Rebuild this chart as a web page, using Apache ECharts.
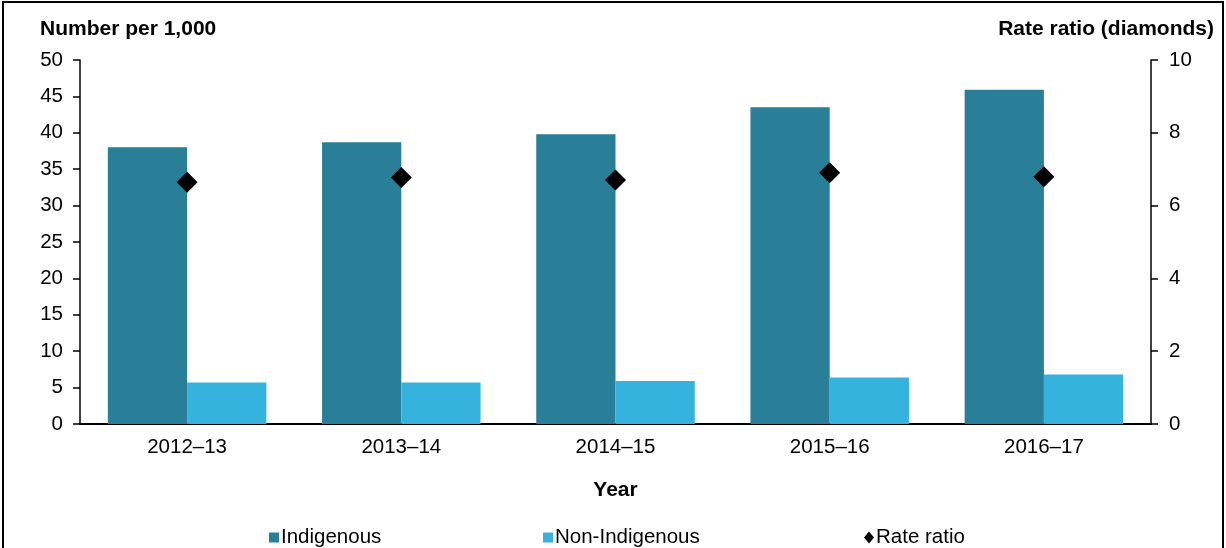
<!DOCTYPE html>
<html>
<head>
<meta charset="utf-8">
<script src="https://cdn.jsdelivr.net/npm/echarts@6/dist/echarts.min.js"></script>
<style>
html,body{margin:0;padding:0;background:#fff;}
#chart{width:1226px;height:548px;}
</style>
</head>
<body>
<div id="chart"></div>
<script>
var categories = ['2012–13', '2013–14', '2014–15', '2015–16', '2016–17'];
var indigenous = [38.0, 38.7, 39.8, 43.5, 45.9];
var nonIndigenous = [5.7, 5.7, 5.9, 6.4, 6.8];
var rateRatio = [6.64, 6.77, 6.70, 6.90, 6.79];
var leftTicks = {min: 0, max: 50, interval: 5};
var rightTicks = {min: 0, max: 10, interval: 2};

var FONT = '"Liberation Sans", Arial, sans-serif';
var FS = 20.5;
var FSB = 21;
var chart = echarts.init(document.getElementById('chart'), null, {renderer: 'canvas'});
var option = {
  animation: false,
  backgroundColor: '#fff',
  grid: {left: 80, right: 75, top: 60, bottom: 124, containLabel: false},
  legend: [
    {data: [{name: 'Indigenous', icon: 'rect'}], left: 264, top: 522, itemWidth: 10, itemHeight: 10,
     textStyle: {fontFamily: FONT, fontSize: FS, color: '#000', padding: [0, 0, 0, -3]}},
    {data: [{name: 'Non-Indigenous', icon: 'rect'}], left: 538, top: 522, itemWidth: 10, itemHeight: 10,
     textStyle: {fontFamily: FONT, fontSize: FS, color: '#000', padding: [0, 0, 0, -3]}},
    {data: [{name: 'Rate ratio', icon: 'diamond'}], left: 859, top: 522, itemWidth: 10, itemHeight: 12,
     textStyle: {fontFamily: FONT, fontSize: FS, color: '#000', padding: [0, 0, 0, -3]}}
  ],
  xAxis: {
    type: 'category',
    data: categories,
    name: 'Year',
    nameLocation: 'middle',
    nameGap: 56,
    nameTextStyle: {fontFamily: FONT, fontSize: FSB, fontWeight: 'bold', color: '#000'},
    axisLine: {show: true, lineStyle: {color: '#000', width: 2}},
    axisTick: {show: false},
    axisLabel: {fontFamily: FONT, fontSize: FS, color: '#000', margin: 13},
    splitLine: {show: false}
  },
  yAxis: [
    {
      type: 'value', min: leftTicks.min, max: leftTicks.max, interval: leftTicks.interval,
      position: 'left',
      axisLine: {show: true, lineStyle: {color: '#000', width: 1.5}},
      axisTick: {show: true, length: 7, lineStyle: {color: '#000', width: 1.5}},
      axisLabel: {fontFamily: FONT, fontSize: FS, color: '#000', margin: 17},
      splitLine: {show: false}
    },
    {
      type: 'value', min: rightTicks.min, max: rightTicks.max, interval: rightTicks.interval,
      position: 'right',
      axisLine: {show: true, lineStyle: {color: '#000', width: 1.5}},
      axisTick: {show: true, length: 7, lineStyle: {color: '#000', width: 1.5}},
      axisLabel: {fontFamily: FONT, fontSize: FS, color: '#000', margin: 18},
      splitLine: {show: false}
    }
  ],
  series: [
    {name: 'Indigenous', type: 'bar', data: indigenous, barGap: '0%', barCategoryGap: '26%',
     itemStyle: {color: '#297E98'}},
    {name: 'Non-Indigenous', type: 'bar', data: nonIndigenous, barGap: '0%', barCategoryGap: '26%',
     itemStyle: {color: '#35B3DE'}},
    {name: 'Rate ratio', type: 'scatter', yAxisIndex: 1, data: rateRatio, symbol: 'diamond', symbolSize: 21,
     itemStyle: {color: '#000', opacity: 1}, z: 5}
  ],
  graphic: [
    {type: 'rect', shape: {x: 3, y: 2, width: 1220, height: 700}, style: {fill: 'none', stroke: '#000', lineWidth: 2}, silent: true},
    {type: 'text', left: 40, top: 19, style: {text: 'Number per 1,000', fontFamily: FONT, fontSize: FSB, fontWeight: 'bold', fill: '#000'}},
    {type: 'text', right: 12, top: 19, style: {text: 'Rate ratio (diamonds)', fontFamily: FONT, fontSize: FSB, fontWeight: 'bold', fill: '#000'}}
  ]
};
chart.setOption(option);
</script>
</body>
</html>
